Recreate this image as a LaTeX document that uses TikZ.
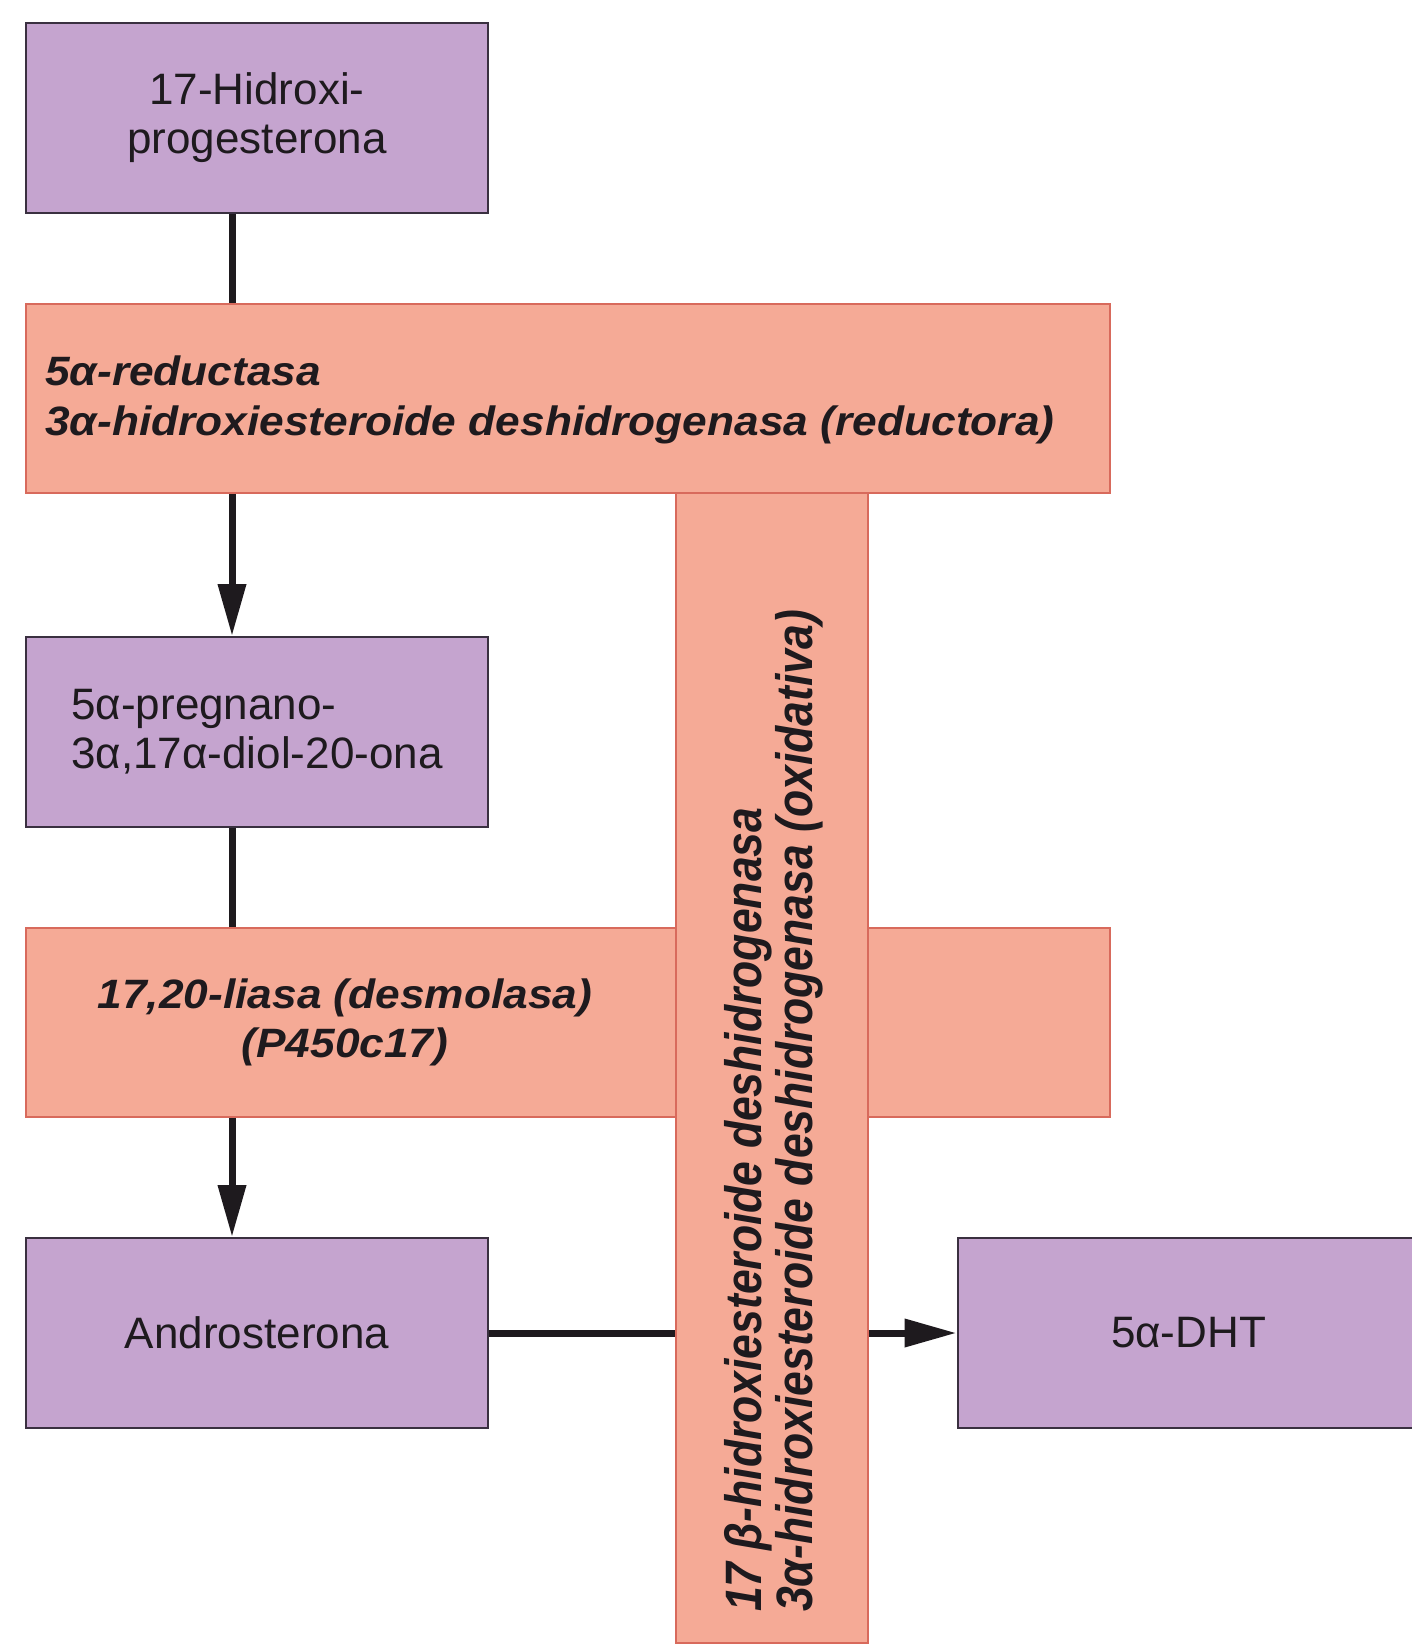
\documentclass[tikz,border=0pt]{standalone}
\usepackage{fontspec}
\setmainfont{Liberation Sans}
\usetikzlibrary{arrows.meta}
\definecolor{lilac}{HTML}{C5A4CF}
\definecolor{salmon}{HTML}{F5AA96}
\definecolor{salmonedge}{HTML}{D86A5C}
\definecolor{boxedge}{HTML}{3A3040}
\definecolor{ink}{HTML}{1E1A1E}
\newcommand{\linesL}[3]{\vtop{\baselineskip=#1\lineskiplimit=-1000pt\halign{##\hfil\cr #2\cr #3\cr}}}
\newcommand{\linesC}[3]{\vtop{\baselineskip=#1\lineskiplimit=-1000pt\halign{\hfil##\hfil\cr #2\cr #3\cr}}}
\begin{document}
\begin{tikzpicture}[x=1pt,y=-1pt,
  mol/.style={draw=boxedge, line width=2pt, fill=lilac, minimum width=462pt,
    minimum height=190pt, inner sep=0pt, text=ink,
    font=\fontsize{44}{49}\selectfont},
  enzbar/.style={draw=salmonedge, line width=1.5pt, fill=salmon, inner sep=0pt},
  enztext/.style={font=\fontsize{41}{50}\selectfont\bfseries\itshape, text=ink,
    xscale=1.08, transform shape, inner sep=0pt},
  vtext/.style={font=\fontsize{44.5}{50}\selectfont\bfseries\itshape, text=ink,
    rotate=90, yscale=1.15, transform shape, inner sep=0pt},
  conn/.style={line width=7pt, draw=ink},
  arr/.style={conn, -{Triangle[length=52pt,width=27pt]}}
]
\useasboundingbox (0,0) rectangle (1411,1646);
\fill[white] (0,0) rectangle (1411,1646);

% enzyme bars
\node[enzbar, minimum width=1084pt, minimum height=189pt] (bar2) at (568,1022.5) {};
\node[enzbar, minimum width=192pt, minimum height=1150pt] (vbar) at (772,1068) {};
\node[enzbar, minimum width=1084pt, minimum height=189pt] (bar1) at (568,398.5) {};

% enzyme labels
\node[enztext, anchor=base west] (t1) at (45,385)
  {\linesL{50pt}{5α-reductasa}{3α-hidroxiesteroide deshidrogenasa (reductora)}};
\node[enztext, anchor=base] (t2) at (345,1008)
  {\linesC{49pt}{17,20-liasa (desmolasa)}{(P450c17)}};
\node[vtext, anchor=base west] (tv) at (761,1612)
  {\linesL{44.5pt}{17 β-hidroxiesteroide deshidrogenasa}{3α-hidroxiesteroide deshidrogenasa (oxidativa)}};

% metabolites
\node[mol, align=center] (b1) at (257,118) {17-Hidroxi-\\progesterona};
\node[mol, align=left] (b2) at (257,732) {5α-pregnano-\\3α,17α-diol-20-ona};
\node[mol] (b3) at (257,1333) {Androsterona};
\node[mol] (b4) at (1188.5,1333) {5α-DHT};

% connectors
\draw[conn] ([xshift=-25pt]b1.south) -- ([xshift=-25pt]b1.south |- bar1.north);
\draw[arr] ([xshift=-25pt]b2.north |- bar1.south) -- ([xshift=-25pt]b2.north);
\draw[conn] ([xshift=-25pt]b2.south) -- ([xshift=-25pt]b2.south |- bar2.north);
\draw[arr] ([xshift=-25pt]b3.north |- bar2.south) -- ([xshift=-25pt]b3.north);
\draw[conn] (b3.east) -- (b3.east -| vbar.west);
\draw[arr] (b4.west -| vbar.east) -- (b4.west);
\end{tikzpicture}
\end{document}
